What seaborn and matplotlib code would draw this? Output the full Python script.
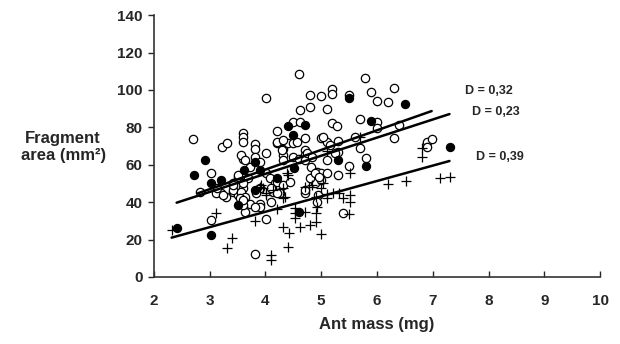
import numpy as np
import pandas as pd
import matplotlib
matplotlib.use("Agg")
import matplotlib.pyplot as plt
import seaborn as sns

# open circles (mass mg, area mm2)
open_mass = [4.60, 4.01, 4.80, 4.99, 5.20, 5.20, 5.50, 5.78, 5.90, 6.30, 6.00, 6.20, 4.62, 4.80, 5.10,
             4.50, 4.62, 5.20, 5.28, 5.69, 6.00, 6.00, 6.40, 4.21, 3.60, 3.60, 3.60, 2.71, 3.22, 3.32,
             3.81, 3.81, 4.01, 4.21, 4.32, 4.41, 4.50, 4.71, 4.32, 4.32, 4.71, 4.71, 3.60, 3.81, 3.90,
             3.72, 4.50, 4.60, 4.81, 4.92, 4.92, 3.02, 2.82, 3.51, 3.42, 3.69, 3.60, 4.02, 4.08, 4.17,
             4.26, 3.90, 3.84, 4.14, 4.26, 3.42, 3.51, 3.57, 3.21, 3.30, 4.71, 4.81, 4.89, 4.94, 6.30,
             5.69, 5.60, 5.30, 5.00, 5.10, 4.71, 5.30, 5.11, 4.80, 5.00, 5.10, 5.30, 5.00, 5.50, 5.80,
             6.90, 6.99, 6.90, 3.02, 3.81, 4.01, 4.11, 3.90, 3.90, 3.72, 3.63, 4.92, 3.12, 3.24, 3.42,
             3.57, 3.63, 3.54, 4.20, 4.32, 4.44, 4.11, 4.20, 3.14, 3.42, 3.60, 3.81, 3.51, 4.29, 4.20,
             4.32, 4.56, 4.74, 4.83, 5.03, 5.15, 5.24, 3.57, 3.63, 3.60, 3.60, 4.71, 4.89, 4.97, 5.39]
open_area = [108.3, 95.5, 97.3, 96.7, 100.3, 98.0, 97.5, 106.5, 99.0, 100.8, 94.2, 93.7, 89.3, 91.0, 89.8,
             83.0, 83.0, 82.1, 80.9, 84.3, 83.0, 79.5, 81.2, 78.0, 76.8, 74.7, 72.3, 73.6, 69.6, 71.5,
             70.9, 68.2, 66.4, 71.5, 68.2, 71.8, 71.8, 74.1, 65.2, 62.5, 67.9, 65.2, 63.1, 64.3, 61.6,
             58.6, 64.3, 62.9, 58.6, 56.3, 53.6, 55.4, 45.3, 53.6, 50.1, 52.8, 47.4, 55.4, 52.8, 50.1,
             48.3, 47.4, 44.7, 45.6, 44.7, 45.6, 43.8, 42.9, 44.7, 42.9, 44.7, 52.8, 50.1, 43.8, 74.5,
             69.1, 75.0, 72.7, 74.1, 72.3, 62.5, 67.0, 62.5, 52.8, 55.4, 55.4, 54.5, 51.8, 59.3, 63.4,
             72.3, 73.6, 69.3, 30.5, 12.3, 30.8, 40.2, 39.0, 37.2, 39.0, 34.9, 40.2, 44.7, 43.8, 46.5,
             45.6, 42.9, 42.0, 50.9, 49.2, 50.9, 47.4, 44.7, 47.4, 49.2, 38.5, 37.6, 54.5, 67.9, 72.3,
             73.2, 72.3, 66.1, 64.3, 75.0, 70.5, 66.1, 65.2, 62.5, 50.1, 41.2, 46.5, 55.4, 53.6, 34.0]

# filled circles
filled_mass = [2.42, 3.03, 2.72, 2.91, 3.02, 3.21, 3.51, 3.62, 3.90, 3.82, 4.41, 4.71, 4.50, 4.52,
               4.21, 5.50, 6.50, 5.90, 5.30, 5.81, 7.30, 4.60, 3.81]
filled_area = [26.0, 22.4, 54.5, 62.5, 50.4, 52.0, 38.5, 57.2, 57.4, 61.6, 80.9, 81.2, 75.9, 58.5,
               52.7, 95.5, 92.5, 83.4, 62.5, 59.3, 69.6, 34.9, 46.5]

# plus signs
plus_mass = [2.33, 3.12, 3.41, 3.32, 3.82, 4.01, 4.21, 4.32, 4.42, 4.41, 4.11, 4.11, 4.53, 4.53, 4.53,
             4.62, 4.80, 4.71, 4.90, 4.90, 4.78, 4.90, 4.35, 3.90, 4.02, 4.71, 4.83, 5.00, 5.10, 5.21,
             5.32, 5.10, 5.39, 5.51, 5.51, 5.50, 4.92, 5.00, 6.20, 6.52, 6.80, 6.80, 7.13, 7.30, 5.69,
             5.10, 5.51, 4.41, 4.32, 4.14, 3.93, 4.32, 4.38, 3.96, 5.03]
plus_area = [25.1, 34.0, 20.7, 15.7, 30.1, 43.8, 36.2, 26.9, 23.3, 16.2, 11.8, 9.1, 36.7, 34.0, 31.4,
             26.9, 27.8, 34.9, 34.0, 29.6, 48.3, 42.6, 42.6, 48.3, 44.7, 47.9, 49.2, 47.4, 44.4, 44.7,
             44.7, 42.0, 42.0, 43.8, 40.2, 33.5, 37.6, 23.0, 49.5, 51.5, 68.8, 64.3, 52.8, 53.3, 74.7,
             67.5, 55.4, 54.5, 47.4, 46.5, 49.2, 42.0, 55.4, 47.4, 50.0]

# fitted lines: start / end points
line_names = ["D = 0,32", "D = 0,23", "D = 0,39"]
line_mass = [[2.79, 6.98], [2.41, 7.30], [2.32, 7.30]]
line_area = [[44.7, 88.7], [39.7, 87.1], [21.0, 62.0]]
label_pos = [(7.57, 99.5), (7.70, 88.0), (7.77, 64.0)]

sns.set_style("ticks")
plt.rcParams['font.family'] = ['Liberation Sans', 'DejaVu Sans']

fig = plt.figure(figsize=(6.2, 3.44), dpi=100)
ax = fig.add_axes([0.248, 0.195, 0.72, 0.761])

sns.scatterplot(x=open_mass, y=open_area, ax=ax, marker='o', s=36, facecolor='white',
                edgecolor='black', linewidth=0.9, zorder=3)
sns.scatterplot(x=filled_mass, y=filled_area, ax=ax, marker='o', s=34, color='black',
                edgecolor='black', linewidth=0.9, zorder=3)
sns.scatterplot(x=plus_mass, y=plus_area, ax=ax, marker='+', s=42, color='black',
                linewidth=0.9, zorder=3)

for name, xs, ys, pos in zip(line_names, line_mass, line_area, label_pos):
    sns.lineplot(x=xs, y=ys, ax=ax, color='black', linewidth=1.8, zorder=4)
    ax.text(pos[0], pos[1], name, fontsize=9, fontweight='bold', va='center', ha='left')

ax.set_xlim(2, 10)
ax.set_ylim(0, 140)
ax.set_xticks(range(2, 11))
ax.set_yticks(range(0, 141, 20))
sns.despine(ax=ax)
for sp in ['left', 'bottom']:
    ax.spines[sp].set_color('#333333')
    ax.spines[sp].set_linewidth(1.2)
ax.tick_params(axis='x', direction='in', length=4, width=1, pad=12, labelsize=11)
ax.tick_params(axis='y', direction='out', length=4, width=1, pad=4, labelsize=11)
for lab in ax.get_xticklabels() + ax.get_yticklabels():
    lab.set_fontweight('bold')

ax.set_xlabel('Ant mass (mg)', fontsize=12, fontweight='bold', labelpad=7)
fig.text(0.102, 0.572, 'Fragment\narea (mm²)', fontsize=12, fontweight='bold',
         ha='center', va='center', linespacing=1.15)

fig.savefig('out.png', dpi=100)
